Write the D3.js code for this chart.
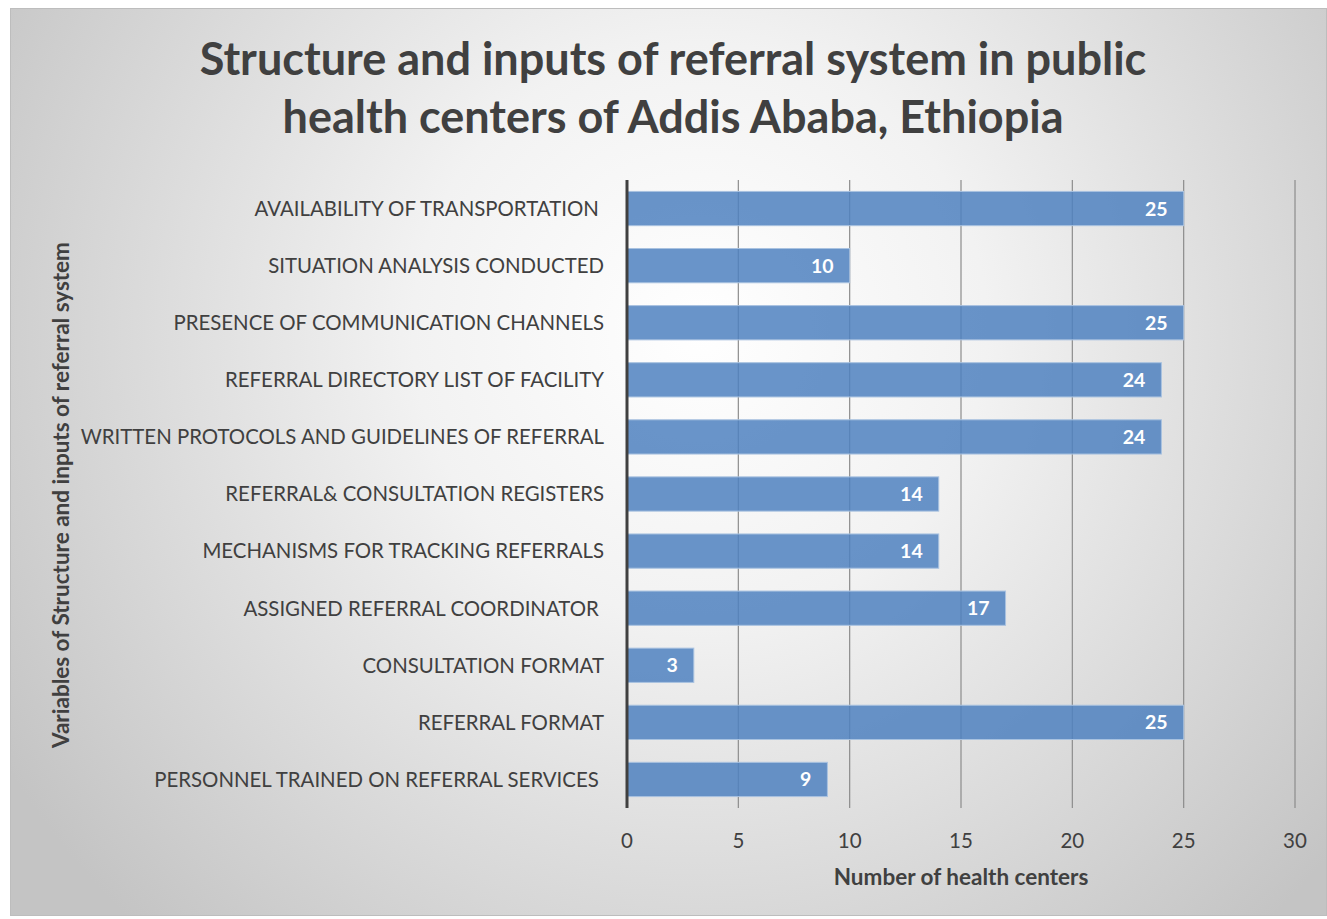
<!DOCTYPE html>
<html><head><meta charset="utf-8">
<script src="https://cdn.jsdelivr.net/npm/d3@7"></script>
<style>body{margin:0;background:#fff}svg{display:block}</style>
</head><body>
<script>
const categories = [
  "AVAILABILITY OF TRANSPORTATION ",
  "SITUATION ANALYSIS CONDUCTED",
  "PRESENCE OF COMMUNICATION CHANNELS",
  "REFERRAL DIRECTORY LIST OF FACILITY",
  "WRITTEN PROTOCOLS AND GUIDELINES OF REFERRAL",
  "REFERRAL& CONSULTATION REGISTERS",
  "MECHANISMS FOR TRACKING REFERRALS",
  "ASSIGNED REFERRAL COORDINATOR ",
  "CONSULTATION FORMAT",
  "REFERRAL FORMAT",
  "PERSONNEL TRAINED ON REFERRAL SERVICES "
];
const values = [25, 10, 25, 24, 24, 14, 14, 17, 3, 25, 9];
const tickValues = [0, 5, 10, 15, 20, 25, 30];
const titleLines = ["Structure and inputs of referral system in public", "health centers of Addis Ababa, Ethiopia"];
const xTitle = "Number of health centers";
const yTitle = "Variables of Structure and inputs of referral system";

const W = 1327, H = 919;
const svg = d3.select("body").append("svg").attr("width", W).attr("height", H);
const defs = svg.append("defs");
const grad = defs.append("radialGradient").attr("id","bg")
  .attr("gradientUnits","userSpaceOnUse").attr("cx",700).attr("cy",330).attr("r",820);
grad.append("stop").attr("offset","0").attr("stop-color","#ffffff");
grad.append("stop").attr("offset","0.35").attr("stop-color","#f2f2f2");
grad.append("stop").attr("offset","1").attr("stop-color","#c4c4c4");

svg.append("rect").attr("x",10.5).attr("y",8.5).attr("width",1316).attr("height",907)
  .attr("fill","url(#bg)").attr("stroke","#bdbdbd").attr("stroke-width",1);

const font = "Lato, 'Open Sans', sans-serif";
const x = d3.scaleLinear().domain([0,30]).range([627,1295]);
const y = d3.scaleBand().domain(categories).range([180,808]).paddingInner(0.4).paddingOuter(0.2);

// title
svg.append("g").selectAll("text").data(titleLines).join("text")
  .attr("x",673).attr("y",(d,i)=>75+i*58).attr("text-anchor","middle")
  .attr("font-family",font).attr("font-weight","bold").attr("font-size",45)
  .attr("fill","#404040").text(d=>d);

// gridlines
svg.append("g").selectAll("line").data(tickValues.slice(1)).join("line")
  .attr("x1",d=>x(d)).attr("x2",d=>x(d)).attr("y1",180).attr("y2",808)
  .attr("stroke","#8c8c8c").attr("stroke-width",1.2);

// bars
svg.append("g").selectAll("rect").data(values).join("rect")
  .attr("x",x(0)).attr("y",(d,i)=>y(categories[i]))
  .attr("width",d=>x(d)-x(0)).attr("height",y.bandwidth())
  .attr("fill","#4f81c0").attr("fill-opacity",0.85)
  .attr("stroke","#a9c2e0").attr("stroke-width",1);

// value labels
svg.append("g").selectAll("text").data(values).join("text")
  .attr("x",d=>x(d)-16).attr("y",(d,i)=>y(categories[i])+y.bandwidth()/2)
  .attr("dy","0.36em").attr("text-anchor","end")
  .attr("font-family",font).attr("font-weight","bold").attr("font-size",19.5)
  .attr("fill","#ffffff").text(d=>d);

// axis line
svg.append("line").attr("x1",x(0)).attr("x2",x(0)).attr("y1",180).attr("y2",808)
  .attr("stroke","#404040").attr("stroke-width",3);

// category labels
svg.append("g").selectAll("text").data(categories).join("text")
  .attr("x",604).attr("y",d=>y(d)+y.bandwidth()/2).attr("dy","0.36em")
  .attr("text-anchor","end").attr("font-family",font).attr("font-size",20.4)
  .attr("fill","#404040").style("white-space","pre").text(d=>d);

// tick labels
svg.append("g").selectAll("text").data(tickValues).join("text")
  .attr("x",d=>x(d)).attr("y",848).attr("text-anchor","middle")
  .attr("font-family",font).attr("font-size",20.5).attr("fill","#404040").text(d=>d);

// axis titles
svg.append("text").attr("x",961).attr("y",885).attr("text-anchor","middle")
  .attr("font-family",font).attr("font-weight","bold").attr("font-size",22.5)
  .attr("fill","#404040").text(xTitle);
svg.append("text").attr("transform","translate(69,495) rotate(-90)").attr("text-anchor","middle")
  .attr("font-family",font).attr("font-weight","bold").attr("font-size",22.5)
  .attr("fill","#404040").text(yTitle);
</script>
</body></html>
